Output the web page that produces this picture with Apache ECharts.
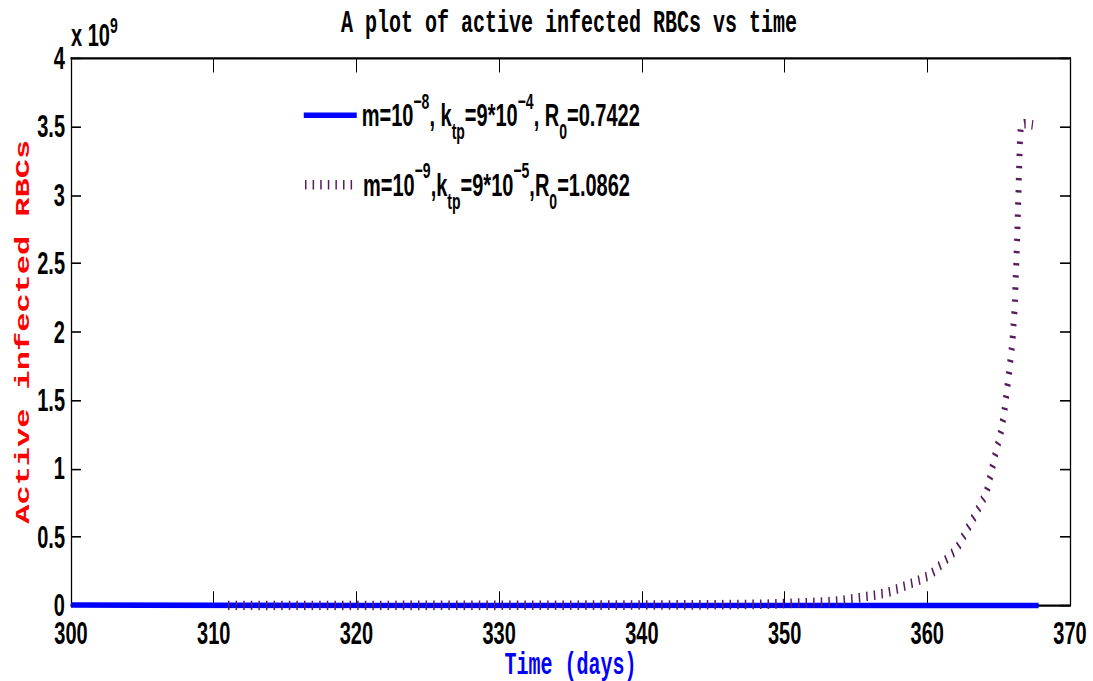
<!DOCTYPE html>
<html>
<head>
<meta charset="utf-8">
<script src="https://cdn.jsdelivr.net/npm/echarts@6/dist/echarts.min.js"></script>
<style>
  html, body { margin: 0; padding: 0; background: #fff; width: 1093px; height: 681px; overflow: hidden; }
  /* the figure is laid out on a short canvas and stretched vertically */
  #chart { width: 1093px; height: 425.625px; transform: scaleY(1.6); transform-origin: 0 0; }
</style>
</head>
<body>
<div id="chart"></div>
<script>
// Axis ticks
const dayTicks = [300, 310, 320, 330, 340, 350, 360, 370];
const cellTicks = [0, 0.5, 1, 1.5, 2, 2.5, 3, 3.5, 4]; // units of 10^9

// Run 1: m=1e-8, k_tp=9e-4, R0=0.7422 (infection dies out)
const run1Days  = [300, 310, 320, 330, 340, 350, 360, 367.8];
const run1Cells = [0.004, 0.002, 0.001, 0.0006, 0.0003, 0.0002, 0.0001, 0.0001];

// Run 2: m=1e-9, k_tp=9e-5, R0=1.0862 (infection takes off)
const run2Days  = [311, 320, 330, 340, 345, 348.75, 351.3, 352.95, 354.0, 355.05, 356.1, 357.15, 358.2, 359.26,
                   360.2, 361.13, 362.07, 362.76, 363.46, 364.16, 364.87, 365.1, 365.38, 365.68, 365.96, 366.13,
                   366.22, 366.31, 366.38, 366.45, 366.5, 366.56, 366.8, 367.1, 367.4];
const run2Cells = [0.0005, 0.001, 0.002, 0.004, 0.006, 0.01, 0.02, 0.027, 0.037, 0.054, 0.073, 0.093, 0.134, 0.178,
                   0.224, 0.317, 0.414, 0.548, 0.682, 0.829, 1.15, 1.236, 1.40, 1.658, 1.92, 2.186,
                   2.45, 2.72, 2.98, 3.247, 3.42, 3.51, 3.52, 3.52, 3.51];

const seriesNames = ['m=10^-8, k_tp=9*10^-4, R_0=0.7422', 'm=10^-9,k_tp=9*10^-5,R_0=1.0862'];
const legendLabels = [
  '{b|m=10}{sup|\u22128}{b|, k}{sub|tp}{b|=9*10}{sup|\u22124}{b|, R}{sub|0}{b|=0.7422}',
  '{b|m=10}{sup|\u22129}{b|,k}{sub|tp}{b|=9*10}{sup|\u22125}{b|,R}{sub|0}{b|=1.0862}'
];

const sans = 'Liberation Sans, Arial, Helvetica, sans-serif';
const mono = 'Liberation Mono, Courier New, monospace';

const legendRich = {
  b:   { fontFamily: sans, fontWeight: 'bold', fontSize: 20, color: '#000', lineHeight: 40 },
  sup: { fontFamily: sans, fontWeight: 'bold', fontSize: 14, color: '#000', verticalAlign: 'top', padding: [4, 0, 0, 0] },
  sub: { fontFamily: sans, fontWeight: 'bold', fontSize: 14, color: '#000', verticalAlign: 'bottom', padding: [0, 0, 3, 0] }
};

const tickLabel = { fontFamily: sans, fontWeight: 'bold', fontSize: 20, color: '#000', lineHeight: 16 };
const frameLine = { show: true, onZero: false, lineStyle: { color: '#000', width: 1.3 } };

const chart = echarts.init(document.getElementById('chart'), null, { renderer: 'svg' });

const xBase = {
  type: 'value',
  min: dayTicks[0], max: dayTicks[dayTicks.length - 1], interval: dayTicks[1] - dayTicks[0],
  axisLine: frameLine,
  axisTick: { show: true, inside: true, length: 9, lineStyle: { color: '#000', width: 1 } },
  splitLine: { show: false }
};
const yBase = {
  type: 'value',
  min: cellTicks[0], max: cellTicks[cellTicks.length - 1], interval: cellTicks[1] - cellTicks[0],
  axisLine: frameLine,
  axisTick: { show: true, inside: true, length: 10, lineStyle: { color: '#000', width: 1 } },
  splitLine: { show: false }
};

chart.setOption({
  animation: false,
  backgroundColor: '#fff',
  title: {
    text: 'A plot of active infected RBCs vs time',
    left: 341, top: 5, padding: 0,
    textStyle: { fontFamily: mono, fontWeight: 'bold', fontSize: 20, color: '#000' }
  },
  grid: { left: 71, right: 23, top: 36.25, bottom: 47.5, containLabel: false, outerBoundsMode: 'none' },
  xAxis: [
    Object.assign({}, xBase, {
      position: 'bottom',
      name: 'Time (days)', nameLocation: 'middle', nameGap: 29.5, nameMoveOverlap: false,
      nameTextStyle: { fontFamily: mono, fontWeight: 'bold', fontSize: 20, color: '#0000ff', lineHeight: 16 },
      axisLabel: Object.assign({ margin: 9 }, tickLabel)
    }),
    Object.assign({}, xBase, { position: 'top', axisLabel: { show: false } })
  ],
  yAxis: [
    Object.assign({}, yBase, {
      position: 'left',
      name: 'Active infected RBCs', nameLocation: 'middle', nameGap: 37, nameMoveOverlap: false,
      nameTextStyle: { fontFamily: mono, fontWeight: 'bold', fontSize: 20, color: '#ff0000', lineHeight: 20 },
      axisLabel: Object.assign({ margin: 6 }, tickLabel)
    }),
    Object.assign({}, yBase, { position: 'right', axisLabel: { show: false } })
  ],
  legend: [
    {
      data: [{ name: seriesNames[0] }],
      left: 302, top: 56, padding: 0, orient: 'vertical',
      itemWidth: 53, itemHeight: 14, selectedMode: false,
      itemStyle: { opacity: 0 },
      lineStyle: { width: 3.5, opacity: 1 },
      formatter: () => legendLabels[0],
      textStyle: { rich: legendRich }
    },
    {
      data: [{ name: seriesNames[1] }],
      left: 302, top: 99.5, padding: 0, orient: 'vertical',
      itemWidth: 53, itemHeight: 14, selectedMode: false,
      itemStyle: { opacity: 0 },
      lineStyle: { width: 6, opacity: 1 },
      formatter: () => legendLabels[1],
      textStyle: { rich: legendRich }
    }
  ],
  graphic: [
    {
      type: 'text', left: 71, top: 9,
      style: {
        text: '{b|x 10}{sup|9}',
        rich: {
          b:   { fontFamily: sans, fontWeight: 'bold', fontSize: 20, color: '#000', lineHeight: 26 },
          sup: { fontFamily: sans, fontWeight: 'bold', fontSize: 14, color: '#000', lineHeight: 4, verticalAlign: 'top' }
        }
      }
    }
  ],
  series: [
    {
      type: 'line', name: seriesNames[0],
      data: run1Days.map((d, i) => [d, run1Cells[i]]),
      symbol: 'none', silent: true, z: 2,
      lineStyle: { color: '#0000ff', width: 3.5, cap: 'butt' },
      itemStyle: { color: '#0000ff' }
    },
    {
      type: 'line', name: seriesNames[1],
      data: run2Days.map((d, i) => [d, run2Cells[i]]),
      symbol: 'none', silent: true, z: 3,
      lineStyle: { color: '#581d5e', width: 6, type: [1.5, 6.1], cap: 'butt' },
      itemStyle: { color: '#581d5e' }
    }
  ]
});
</script>
</body>
</html>
